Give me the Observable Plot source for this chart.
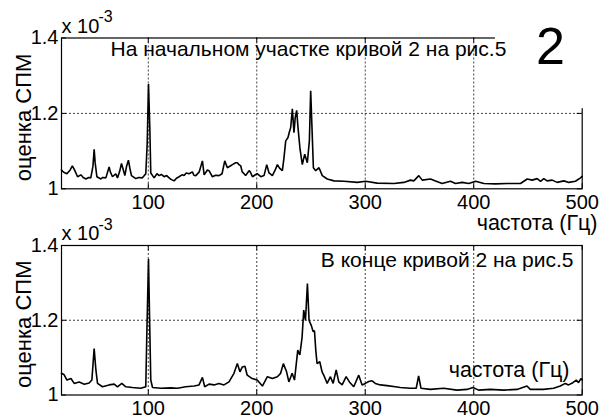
<!DOCTYPE html>
<html><head><meta charset="utf-8">
<script src="https://cdn.jsdelivr.net/npm/d3@7"></script>
<script src="https://cdn.jsdelivr.net/npm/@observablehq/plot@0.6"></script>
<style>
body{margin:0;background:#fff;}
#wrap{position:relative;width:600px;height:418px;overflow:hidden;background:#fff;}
#wrap svg{position:absolute;left:0;}
</style></head><body><div id="wrap"></div>
<script>
// ---- data (frequency in Hz, PSD estimate in units of 1e-3) ----
const freqTop = [20,22,25,28,30,32,34.8,37.9,40,42.5,45,47,49,50.1,51,52.6,56.3,58,60.9,63.9,65,67,70,71.6,73.5,75.3,77,78.4,80,81.7,83,84.5,88.5,91,94.6,97.7,99,100.2,101.4,102.3,105.4,108,110,112,114.6,117,119.2,121,123.8,126,128.4,131,133,135,137.6,140.7,142,143.8,147,149.9,151.5,154.5,156,159.1,162,165.2,168,170.5,172.9,175.9,177.6,180.5,182.2,183.6,185.2,186.6,188.3,189.7,192.9,194,196,198,200.4,203.7,206.7,209.2,211.3,214.4,217,219,221,223.6,225,226.7,228.8,230,231.3,232.8,234.3,235.5,236.8,238,239.9,242,244.2,246.6,248.5,249.7,250.9,252.2,254.3,257.4,260.4,265,271.2,280.4,292.7,300.3,311,326.4,335.6,341.7,344.8,349.4,352.5,360.2,364.8,370.9,378.6,383.2,389.4,395.5,401.7,409.4,420.1,430.8,443.1,449.3,453.9,458.5,461.6,464.6,467.7,472.3,476.9,483.1,487.7,493.8,498.4,500];
const psdTop = [1.050,1.044,1.040,1.050,1.061,1.050,1.032,1.037,1.030,1.026,1.030,1.029,1.060,1.105,1.070,1.032,1.026,1.030,1.029,1.058,1.045,1.032,1.040,1.029,1.045,1.067,1.050,1.035,1.060,1.076,1.055,1.035,1.027,1.030,1.029,1.040,1.120,1.278,1.163,1.042,1.029,1.040,1.035,1.038,1.032,1.035,1.029,1.025,1.021,1.028,1.032,1.037,1.035,1.042,1.040,1.045,1.036,1.035,1.045,1.074,1.037,1.050,1.048,1.032,1.036,1.035,1.040,1.074,1.056,1.061,1.064,1.069,1.069,1.064,1.061,1.045,1.040,1.035,1.048,1.045,1.032,1.036,1.040,1.032,1.035,1.064,1.042,1.035,1.050,1.064,1.055,1.048,1.080,1.127,1.136,1.150,1.163,1.212,1.149,1.190,1.208,1.163,1.105,1.064,1.092,1.069,1.127,1.260,1.163,1.056,1.048,1.056,1.035,1.026,1.021,1.020,1.017,1.020,1.015,1.014,1.017,1.023,1.021,1.035,1.023,1.026,1.021,1.014,1.020,1.014,1.017,1.014,1.020,1.014,1.013,1.014,1.014,1.026,1.023,1.027,1.020,1.027,1.021,1.023,1.017,1.021,1.017,1.020,1.029,1.033];

const freqBottom = [20,22.5,25,28.7,31.7,36.3,41,45.5,48,50.1,51.7,53.2,57.8,63.9,68.6,71.6,75.6,79.3,85.4,93.1,97.7,98.6,100.2,101.4,102.3,103.9,111.5,120.7,126.9,134.5,142.2,146.8,149.9,152,156,160.6,165.2,169.8,174.4,179,182.1,184.5,186.7,189.1,191.2,195.8,200.4,205.2,209.8,214.4,219,222,224.5,227.5,229.6,232.6,234.8,237.8,239.7,241.8,243.3,244.9,246.7,248.2,250.4,251.9,253.2,254.4,255.6,258.1,260.2,262.4,264.9,267.9,270.4,273.2,275.6,278.7,282.4,285.4,289.4,294,297.1,300.1,303.2,306.3,309.3,313.9,320.1,327.7,332.3,341.5,347,349.2,351.4,360,372.3,384.5,393.8,399.3,404.5,415.3,427.6,439.9,449.1,452.1,464.4,473.6,479.8,484.4,487.4,491.4,494.5,496.6,498.8,500];
const psdBottom = [1.058,1.054,1.040,1.044,1.031,1.035,1.029,1.032,1.040,1.124,1.067,1.031,1.022,1.027,1.029,1.022,1.031,1.022,1.020,1.018,1.022,1.155,1.364,1.173,1.040,1.020,1.018,1.019,1.018,1.022,1.024,1.027,1.047,1.022,1.029,1.027,1.031,1.027,1.035,1.058,1.084,1.062,1.075,1.077,1.053,1.044,1.040,1.024,1.049,1.044,1.049,1.058,1.084,1.062,1.035,1.058,1.040,1.120,1.107,1.155,1.227,1.200,1.298,1.200,1.185,1.170,1.172,1.120,1.084,1.089,1.062,1.049,1.031,1.049,1.031,1.067,1.035,1.027,1.049,1.035,1.022,1.053,1.027,1.031,1.036,1.038,1.031,1.027,1.025,1.022,1.020,1.018,1.018,1.051,1.018,1.015,1.018,1.013,1.015,1.020,1.013,1.015,1.013,1.015,1.024,1.015,1.015,1.018,1.024,1.031,1.027,1.033,1.040,1.033,1.044,1.040];

const xTicks = [100, 200, 300, 400, 500];
const xGrid = [100, 200, 300, 400];
const yTicks = [1, 1.2, 1.4];
const yGrid = [1.2];
const yTickLabels = ["1", "1.2", "1.4"];
const xDomain = [20, 500];
const yDomain = [1, 1.4];

const titleTop = "На начальном участке кривой 2 на рис.5";
const titleBottom = "В конце кривой 2 на рис.5";
const yLabel = "оценка СПМ";
const xLabel = "частота (Гц)";
const scaleMant = "x 10";
const scaleExp = "-3";
const figLabel = "2";
// corner of the top frame hidden behind the figure label box
const labelBox = {x1: 420, x2: 520, y1: 1.2125, y2: 1.6};

const FONT = "'Liberation Sans', Arial, sans-serif";
const wrap = document.getElementById("wrap");

function panel({freq, psd, top, height, mt, mb, extra}) {
  const ml = 61, mr = 18.3, width = 600;
  const innerH = height - mt - mb, innerW = width - ml - mr;
  const data = freq.map((f, i) => ({f, v: psd[i]}));
  const fmt = d => yTickLabels[yTicks.indexOf(d)];
  const tick = 5;
  const svg = Plot.plot({
    width, height, marginTop: mt, marginBottom: mb, marginLeft: ml, marginRight: mr,
    style: {background: "none", fontFamily: FONT, overflow: "visible", color: "#000"},
    x: {domain: xDomain},
    y: {domain: yDomain},
    marks: [
      Plot.gridX(xGrid, {stroke: "#000", strokeOpacity: 0.75, strokeDasharray: "2,2"}),
      Plot.gridY(yGrid, {stroke: "#000", strokeOpacity: 0.75, strokeDasharray: "2,2"}),
      Plot.tickX(xTicks, {x: d => d, insetTop: innerH - tick, stroke: "#000"}),
      Plot.tickX(xTicks, {x: d => d, insetBottom: innerH - tick, stroke: "#000"}),
      Plot.tickY(yTicks, {y: d => d, insetRight: innerW - tick, stroke: "#000"}),
      Plot.tickY(yTicks, {y: d => d, insetLeft: innerW - tick, stroke: "#000"}),
      Plot.line(data, {x: "f", y: "v", stroke: "#000", strokeWidth: 1.6, strokeLinejoin: "miter"}),
      Plot.frame({stroke: "#000", strokeWidth: 1.2}),
      Plot.axisX(xTicks, {tickSize: 0, tickPadding: 6, fontSize: 20, label: null, tickFormat: d => String(d)}),
      Plot.axisY(yTicks, {tickSize: 0, tickPadding: 3, fontSize: 20, label: null, tickFormat: fmt}),
      Plot.text([scaleMant], {frameAnchor: "top-left", dx: 0, dy: -5.5, lineAnchor: "bottom", textAnchor: "start", fontSize: 20}),
      Plot.text([scaleExp], {frameAnchor: "top-left", dx: 37, dy: -16, lineAnchor: "bottom", textAnchor: "start", fontSize: 16}),
      Plot.text([yLabel], {frameAnchor: "left", dx: -38, dy: 4, rotate: -90, textAnchor: "middle", lineAnchor: "middle", fontSize: 22}),
      ...extra
    ]
  });
  svg.style.top = top + "px";
  wrap.appendChild(svg);
}

panel({
  freq: freqTop, psd: psdTop, top: 0, height: 240, mt: 37.5, mb: 51.7,
  extra: [
    Plot.rect([labelBox], {x1: "x1", x2: "x2", y1: "y1", y2: "y2", fill: "#fff"}),
    Plot.text([figLabel], {frameAnchor: "top-right", dx: -31.7, dy: 25.5, lineAnchor: "bottom", textAnchor: "middle", fontSize: 52}),
    Plot.text([titleTop], {frameAnchor: "top-left", dx: 49, dy: 17.5, lineAnchor: "bottom", textAnchor: "start", fontSize: 21}),
    Plot.text([xLabel], {frameAnchor: "bottom-right", dx: 15.3, dy: 41.5, lineAnchor: "bottom", textAnchor: "end", fontSize: 21.5})
  ]
});

panel({
  freq: freqBottom, psd: psdBottom, top: 208, height: 210, mt: 37, mb: 23.5,
  extra: [
    Plot.text([titleBottom], {frameAnchor: "top-right", dx: -8.7, dy: 21.7, lineAnchor: "bottom", textAnchor: "end", fontSize: 21}),
    Plot.text([xLabel], {frameAnchor: "bottom-right", dx: -12.7, dy: -17.8, lineAnchor: "bottom", textAnchor: "end", fontSize: 21.5})
  ]
});
</script></body></html>
